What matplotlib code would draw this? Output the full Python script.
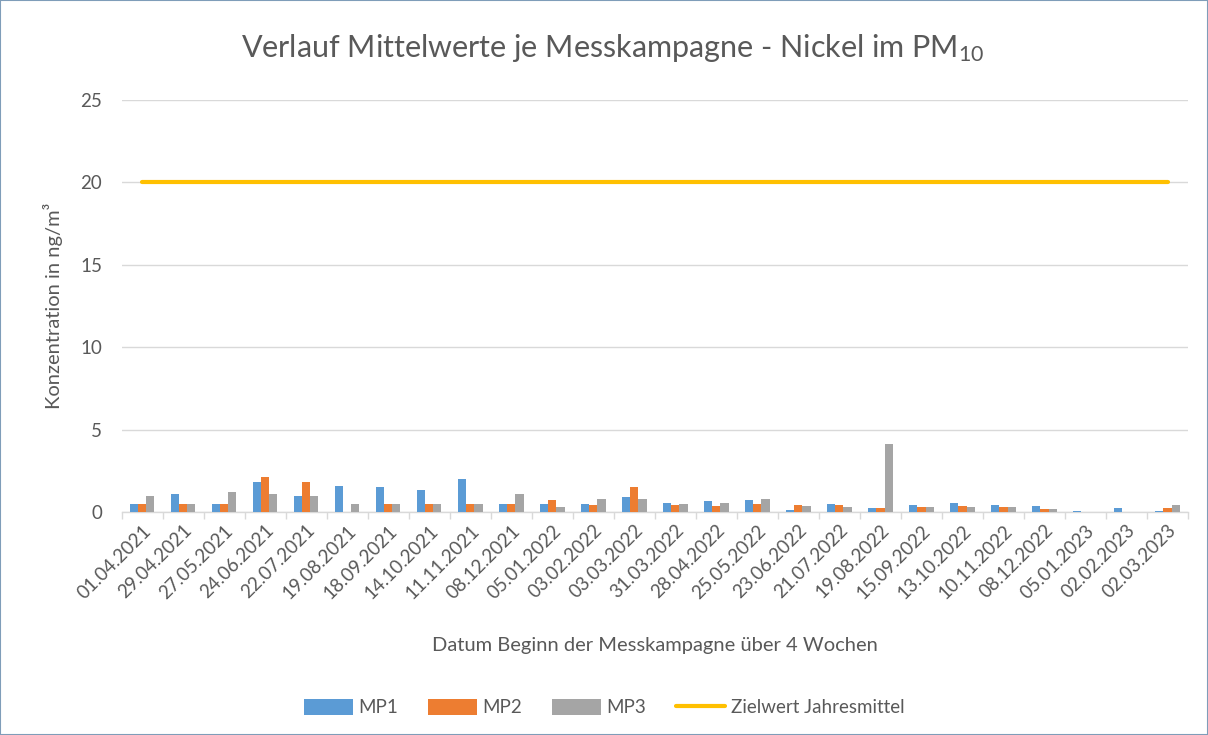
import numpy as np
import matplotlib
matplotlib.use("Agg")
import matplotlib.pyplot as plt
from matplotlib.patches import Rectangle

plt.rcParams["font.family"] = ["Lato", "DejaVu Sans"]
plt.rcParams["mathtext.fontset"] = "custom"
plt.rcParams["mathtext.rm"] = "Lato"

dates = [
    "01.04.2021", "29.04.2021", "27.05.2021", "24.06.2021", "22.07.2021",
    "19.08.2021", "18.09.2021", "14.10.2021", "11.11.2021", "08.12.2021",
    "05.01.2022", "03.02.2022", "03.03.2022", "31.03.2022", "28.04.2022",
    "25.05.2022", "23.06.2022", "21.07.2022", "19.08.2022", "15.09.2022",
    "13.10.2022", "10.11.2022", "08.12.2022", "05.01.2023", "02.02.2023",
    "02.03.2023",
]
mp1 = [0.5, 1.1, 0.5, 1.85, 1.0, 1.6, 1.5, 1.35, 2.0, 0.5,
       0.5, 0.5, 0.9, 0.55, 0.65, 0.75, 0.15, 0.5, 0.22, 0.45,
       0.55, 0.4, 0.35, 0.04, 0.27, 0.04]
mp2 = [0.5, 0.5, 0.5, 2.15, 1.8, 0.0, 0.5, 0.5, 0.5, 0.5,
       0.7, 0.45, 1.5, 0.4, 0.35, 0.5, 0.4, 0.4, 0.22, 0.3,
       0.35, 0.33, 0.2, 0.0, 0.0, 0.22]
mp3 = [0.97, 0.5, 1.22, 1.08, 0.97, 0.5, 0.5, 0.5, 0.5, 1.08,
       0.33, 0.8, 0.8, 0.5, 0.55, 0.8, 0.35, 0.28, 4.15, 0.3,
       0.3, 0.33, 0.2, 0.0, 0.0, 0.4]
zielwert = 20

text_c = "#595959"
grid_c = "#D9D9D9"

fig = plt.figure(figsize=(12.08, 7.35), dpi=100)
ax = fig.add_axes([0.1006, 0.3034, 0.8829, 0.5606])

x = np.arange(len(dates))
w = 0.2
b1 = ax.bar(x - w, mp1, w, color="#5B9BD5", label="MP1", zorder=3)
b2 = ax.bar(x, mp2, w, color="#ED7D31", label="MP2", zorder=3)
b3 = ax.bar(x + w, mp3, w, color="#A5A5A5", label="MP3", zorder=3)
ln, = ax.plot([x[0], x[-1]], [zielwert, zielwert], color="#FFC000", lw=3,
              solid_capstyle="round", label="Zielwert Jahresmittel", zorder=4)

ax.set_xlim(-0.5, len(dates) - 0.5)
ax.set_ylim(0, 25)
ax.set_yticks(range(0, 26, 5))
ax.yaxis.grid(True, color=grid_c, lw=1)
ax.set_axisbelow(True)
for s in ["top", "right", "left"]:
    ax.spines[s].set_visible(False)
ax.spines["bottom"].set_color(grid_c)
ax.spines["bottom"].set_linewidth(1)

ax.set_xticks(x)
ax.set_xticklabels(dates, rotation=45, ha="right", rotation_mode="anchor",
                   fontsize=13.5, color=text_c)
ax.tick_params(axis="x", length=0, pad=7)
ax.set_xticks(np.arange(-0.5, len(dates)), minor=True)
ax.tick_params(axis="x", which="minor", length=5, color=grid_c, width=1)
ax.tick_params(axis="y", length=0, labelsize=13.5, labelcolor=text_c, pad=14)

ax.set_xlabel("Datum Beginn der Messkampagne über 4 Wochen", fontsize=14.5,
              color=text_c, labelpad=25)
ax.set_ylabel("Konzentration in ng/m³", fontsize=14.5, color=text_c, labelpad=12)

fig.text(0.507, 0.935, r"Verlauf Mittelwerte je Messkampagne - Nickel im PM$\mathregular{_{10}}$",
         ha="center", va="center", fontsize=22, color=text_c)

ax.legend([b1, b2, b3, ln], ["MP1", "MP2", "MP3", "Zielwert Jahresmittel"],
          loc="center", bbox_to_anchor=(0.5, 0.037), bbox_transform=fig.transFigure,
          ncol=4, frameon=False, fontsize=13.5, labelcolor=text_c,
          handlelength=2.6, handleheight=0.9, handletextpad=0.3, columnspacing=1.6)

fig.add_artist(Rectangle((0, 0), 1, 1, transform=fig.transFigure, fill=False,
                         edgecolor="#7F9DB9", lw=1.5))

fig.savefig("out.png", dpi=100)
